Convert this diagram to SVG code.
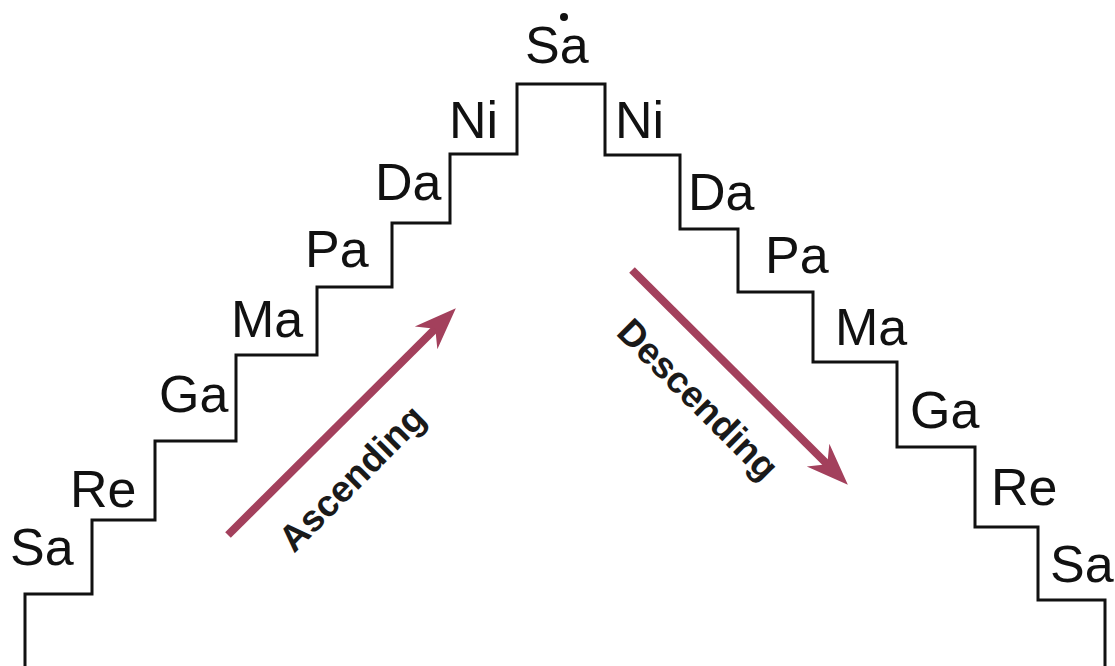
<svg xmlns="http://www.w3.org/2000/svg" width="1115" height="666" viewBox="0 0 1115 666">
<style>
.note{font-family:"Liberation Sans",Arial,sans-serif;font-size:52px;fill:#111}
.dir{font-family:"Liberation Sans",Arial,sans-serif;font-size:37px;font-weight:bold;fill:#1a1a1a}
.stair{fill:none;stroke:#111;stroke-width:3;stroke-linejoin:miter}
.arrow{stroke:#A3405C;stroke-width:8;fill:none}
</style>
<defs>
<marker id="head" markerUnits="userSpaceOnUse" viewBox="-50 -25 55 50" markerWidth="55" markerHeight="50" refX="-28" refY="0" orient="auto">
<path d="M0,0 L-42,-16 L-29,0 L-42,16 Z" fill="#A3405C"/>
</marker>
</defs>
<rect width="1115" height="666" fill="#fff"/>
<g id="stairs">
<path class="stair" d="M25,666 V594 H92 V520 H155 V441 H236 V355 H317 V287 H392 V223 H450 V154 H517 V84 H605 V155 H680 V229 H738 V292 H813 V362 H897 V447 H975 V527 H1038 V600 H1105 V666"/>
</g>
<g id="sa-low-left"><text class="note" x="10" y="565">Sa</text></g>
<g id="re-left"><text class="note" x="70" y="507">Re</text></g>
<g id="ga-left"><text class="note" x="159" y="412">Ga</text></g>
<g id="ma-left"><text class="note" x="231" y="337">Ma</text></g>
<g id="pa-left"><text class="note" x="305" y="267">Pa</text></g>
<g id="da-left"><text class="note" x="375" y="200">Da</text></g>
<g id="ni-left"><text class="note" x="449" y="138">Ni</text></g>
<g id="sa-high"><text class="note" x="525" y="63">Sa</text><circle cx="564" cy="17" r="4" fill="#111"/></g>
<g id="ni-right"><text class="note" x="615" y="138">Ni</text></g>
<g id="da-right"><text class="note" x="688" y="210">Da</text></g>
<g id="pa-right"><text class="note" x="765" y="273">Pa</text></g>
<g id="ma-right"><text class="note" x="835" y="345">Ma</text></g>
<g id="ga-right"><text class="note" x="910" y="428">Ga</text></g>
<g id="re-right"><text class="note" x="991" y="505">Re</text></g>
<g id="sa-low-right"><text class="note" x="1050" y="582">Sa</text></g>
<g id="connectors">
<line class="arrow" x1="228" y1="535" x2="436" y2="328" marker-end="url(#head)"/>
<line class="arrow" x1="632" y1="270" x2="828" y2="465" marker-end="url(#head)"/>
</g>
<g id="labels">
<text class="dir" x="294" y="554" transform="rotate(-45 294 554)">Ascending</text>
<text class="dir" x="615" y="334" transform="rotate(45 615 334)">Descending</text>
</g>
</svg>
